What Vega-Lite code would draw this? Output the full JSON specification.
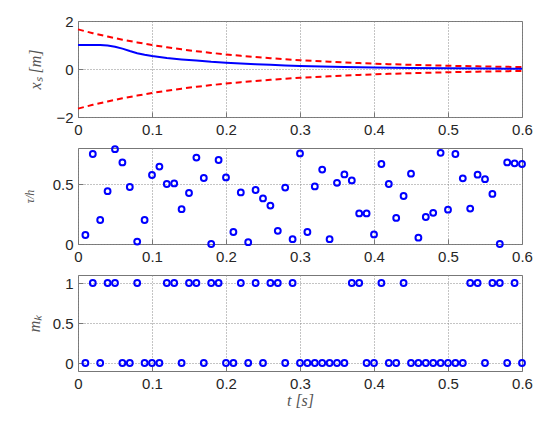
{
  "$schema": "https://vega.github.io/schema/vega-lite/v6.json",
  "background": "white",
  "padding": {"left": 22, "top": 13, "right": 10, "bottom": 10},
  "spacing": 31,
  "bounds": "flush",
  "datasets": {
    "xs": [
      {"t": 0, "v": 1.0}, {"t": 0.01, "v": 1.0}, {"t": 0.02, "v": 1.0}, {"t": 0.03, "v": 0.995},
      {"t": 0.04, "v": 0.975}, {"t": 0.05, "v": 0.93}, {"t": 0.06, "v": 0.85}, {"t": 0.07, "v": 0.75},
      {"t": 0.08, "v": 0.66}, {"t": 0.09, "v": 0.59}, {"t": 0.10, "v": 0.54}, {"t": 0.12, "v": 0.46},
      {"t": 0.14, "v": 0.40}, {"t": 0.16, "v": 0.35}, {"t": 0.18, "v": 0.30}, {"t": 0.20, "v": 0.265},
      {"t": 0.22, "v": 0.23}, {"t": 0.24, "v": 0.20}, {"t": 0.26, "v": 0.175}, {"t": 0.28, "v": 0.15},
      {"t": 0.30, "v": 0.13}, {"t": 0.33, "v": 0.105}, {"t": 0.36, "v": 0.085}, {"t": 0.40, "v": 0.065},
      {"t": 0.45, "v": 0.045}, {"t": 0.50, "v": 0.03}, {"t": 0.55, "v": 0.02}, {"t": 0.60, "v": 0.012}
    ],
    "bound": [
      {"t": 0, "v": 1.65, "side": "up"}, {"t": 0.02, "v": 1.493, "side": "up"}, {"t": 0.04, "v": 1.351, "side": "up"},
      {"t": 0.06, "v": 1.222, "side": "up"}, {"t": 0.08, "v": 1.106, "side": "up"}, {"t": 0.10, "v": 1.001, "side": "up"},
      {"t": 0.12, "v": 0.906, "side": "up"}, {"t": 0.14, "v": 0.819, "side": "up"}, {"t": 0.16, "v": 0.741, "side": "up"},
      {"t": 0.18, "v": 0.671, "side": "up"}, {"t": 0.20, "v": 0.607, "side": "up"}, {"t": 0.22, "v": 0.549, "side": "up"},
      {"t": 0.24, "v": 0.497, "side": "up"}, {"t": 0.26, "v": 0.450, "side": "up"}, {"t": 0.28, "v": 0.407, "side": "up"},
      {"t": 0.30, "v": 0.368, "side": "up"}, {"t": 0.32, "v": 0.333, "side": "up"}, {"t": 0.34, "v": 0.301, "side": "up"},
      {"t": 0.36, "v": 0.273, "side": "up"}, {"t": 0.38, "v": 0.247, "side": "up"}, {"t": 0.40, "v": 0.223, "side": "up"},
      {"t": 0.42, "v": 0.202, "side": "up"}, {"t": 0.44, "v": 0.183, "side": "up"}, {"t": 0.46, "v": 0.165, "side": "up"},
      {"t": 0.48, "v": 0.150, "side": "up"}, {"t": 0.50, "v": 0.135, "side": "up"}, {"t": 0.52, "v": 0.123, "side": "up"},
      {"t": 0.54, "v": 0.111, "side": "up"}, {"t": 0.56, "v": 0.100, "side": "up"}, {"t": 0.58, "v": 0.091, "side": "up"},
      {"t": 0.60, "v": 0.082, "side": "up"},
      {"t": 0, "v": -1.65, "side": "lo"}, {"t": 0.02, "v": -1.493, "side": "lo"}, {"t": 0.04, "v": -1.351, "side": "lo"},
      {"t": 0.06, "v": -1.222, "side": "lo"}, {"t": 0.08, "v": -1.106, "side": "lo"}, {"t": 0.10, "v": -1.001, "side": "lo"},
      {"t": 0.12, "v": -0.906, "side": "lo"}, {"t": 0.14, "v": -0.819, "side": "lo"}, {"t": 0.16, "v": -0.741, "side": "lo"},
      {"t": 0.18, "v": -0.671, "side": "lo"}, {"t": 0.20, "v": -0.607, "side": "lo"}, {"t": 0.22, "v": -0.549, "side": "lo"},
      {"t": 0.24, "v": -0.497, "side": "lo"}, {"t": 0.26, "v": -0.450, "side": "lo"}, {"t": 0.28, "v": -0.407, "side": "lo"},
      {"t": 0.30, "v": -0.368, "side": "lo"}, {"t": 0.32, "v": -0.333, "side": "lo"}, {"t": 0.34, "v": -0.301, "side": "lo"},
      {"t": 0.36, "v": -0.273, "side": "lo"}, {"t": 0.38, "v": -0.247, "side": "lo"}, {"t": 0.40, "v": -0.223, "side": "lo"},
      {"t": 0.42, "v": -0.202, "side": "lo"}, {"t": 0.44, "v": -0.183, "side": "lo"}, {"t": 0.46, "v": -0.165, "side": "lo"},
      {"t": 0.48, "v": -0.150, "side": "lo"}, {"t": 0.50, "v": -0.135, "side": "lo"}, {"t": 0.52, "v": -0.123, "side": "lo"},
      {"t": 0.54, "v": -0.111, "side": "lo"}, {"t": 0.56, "v": -0.100, "side": "lo"}, {"t": 0.58, "v": -0.091, "side": "lo"},
      {"t": 0.60, "v": -0.082, "side": "lo"}
    ],
    "tau": [
      {"t": 0.01, "v": 0.075}, {"t": 0.02, "v": 0.75}, {"t": 0.03, "v": 0.20}, {"t": 0.04, "v": 0.44},
      {"t": 0.05, "v": 0.79}, {"t": 0.06, "v": 0.68}, {"t": 0.07, "v": 0.475}, {"t": 0.08, "v": 0.02},
      {"t": 0.09, "v": 0.20}, {"t": 0.10, "v": 0.575}, {"t": 0.11, "v": 0.645}, {"t": 0.12, "v": 0.50},
      {"t": 0.13, "v": 0.505}, {"t": 0.14, "v": 0.29}, {"t": 0.15, "v": 0.425}, {"t": 0.16, "v": 0.72},
      {"t": 0.17, "v": 0.55}, {"t": 0.18, "v": 0.0}, {"t": 0.19, "v": 0.70}, {"t": 0.20, "v": 0.555},
      {"t": 0.21, "v": 0.10}, {"t": 0.22, "v": 0.43}, {"t": 0.23, "v": 0.015}, {"t": 0.24, "v": 0.45},
      {"t": 0.25, "v": 0.38}, {"t": 0.26, "v": 0.32}, {"t": 0.27, "v": 0.11}, {"t": 0.28, "v": 0.47},
      {"t": 0.29, "v": 0.04}, {"t": 0.30, "v": 0.755}, {"t": 0.31, "v": 0.10}, {"t": 0.32, "v": 0.48},
      {"t": 0.33, "v": 0.62}, {"t": 0.34, "v": 0.04}, {"t": 0.35, "v": 0.51}, {"t": 0.36, "v": 0.58},
      {"t": 0.37, "v": 0.53}, {"t": 0.38, "v": 0.255}, {"t": 0.39, "v": 0.255}, {"t": 0.40, "v": 0.08},
      {"t": 0.41, "v": 0.667}, {"t": 0.42, "v": 0.50}, {"t": 0.43, "v": 0.217}, {"t": 0.44, "v": 0.40},
      {"t": 0.45, "v": 0.586}, {"t": 0.46, "v": 0.053}, {"t": 0.47, "v": 0.225}, {"t": 0.48, "v": 0.26},
      {"t": 0.49, "v": 0.76}, {"t": 0.50, "v": 0.286}, {"t": 0.51, "v": 0.75}, {"t": 0.52, "v": 0.547},
      {"t": 0.53, "v": 0.295}, {"t": 0.54, "v": 0.578}, {"t": 0.55, "v": 0.54}, {"t": 0.56, "v": 0.417},
      {"t": 0.57, "v": 0.0}, {"t": 0.58, "v": 0.68}, {"t": 0.59, "v": 0.672}, {"t": 0.60, "v": 0.667}
    ],
    "mk": [
      {"t": 0.01, "m": 0}, {"t": 0.02, "m": 1}, {"t": 0.03, "m": 0}, {"t": 0.04, "m": 1}, {"t": 0.05, "m": 1},
      {"t": 0.06, "m": 0}, {"t": 0.07, "m": 0}, {"t": 0.08, "m": 1}, {"t": 0.09, "m": 0}, {"t": 0.10, "m": 0},
      {"t": 0.11, "m": 0}, {"t": 0.12, "m": 1}, {"t": 0.13, "m": 1}, {"t": 0.14, "m": 0}, {"t": 0.15, "m": 1},
      {"t": 0.16, "m": 1}, {"t": 0.17, "m": 0}, {"t": 0.18, "m": 1}, {"t": 0.19, "m": 1}, {"t": 0.20, "m": 0},
      {"t": 0.21, "m": 0}, {"t": 0.22, "m": 1}, {"t": 0.23, "m": 0}, {"t": 0.24, "m": 1}, {"t": 0.25, "m": 0},
      {"t": 0.26, "m": 1}, {"t": 0.27, "m": 1}, {"t": 0.28, "m": 0}, {"t": 0.29, "m": 1}, {"t": 0.30, "m": 0},
      {"t": 0.31, "m": 0}, {"t": 0.32, "m": 0}, {"t": 0.33, "m": 0}, {"t": 0.34, "m": 0}, {"t": 0.35, "m": 0},
      {"t": 0.36, "m": 0}, {"t": 0.37, "m": 1}, {"t": 0.38, "m": 1}, {"t": 0.39, "m": 0}, {"t": 0.40, "m": 0},
      {"t": 0.41, "m": 1}, {"t": 0.42, "m": 0}, {"t": 0.43, "m": 0}, {"t": 0.44, "m": 1}, {"t": 0.45, "m": 0},
      {"t": 0.46, "m": 0}, {"t": 0.47, "m": 0}, {"t": 0.48, "m": 0}, {"t": 0.49, "m": 0}, {"t": 0.50, "m": 0},
      {"t": 0.51, "m": 0}, {"t": 0.52, "m": 0}, {"t": 0.53, "m": 1}, {"t": 0.54, "m": 1}, {"t": 0.55, "m": 0},
      {"t": 0.56, "m": 1}, {"t": 0.57, "m": 1}, {"t": 0.58, "m": 0}, {"t": 0.59, "m": 1}, {"t": 0.60, "m": 0}
    ]
  },
  "vconcat": [
    {
      "width": 444,
      "height": 96,
      "layer": [
        {
          "data": {"name": "bound"},
          "mark": {"type": "line", "color": "#ff0000", "strokeWidth": 2, "strokeDash": [6, 4]},
          "encoding": {
            "x": {"field": "t", "type": "quantitative", "scale": {"domain": [0, 0.6], "nice": false, "zero": false},
                  "axis": {"title": null, "values": [0, 0.1, 0.2, 0.3, 0.4, 0.5, 0.6], "format": "~g"}},
            "y": {"field": "v", "type": "quantitative", "scale": {"domain": [-2, 2], "nice": false},
                  "axis": {"title": "xₛ [m]", "values": [-2, 0, 2], "format": "~g", "titlePadding": 12}},
            "detail": {"field": "side"}
          }
        },
        {
          "data": {"name": "xs"},
          "mark": {"type": "line", "color": "#0000ff", "strokeWidth": 2},
          "encoding": {
            "x": {"field": "t", "type": "quantitative"},
            "y": {"field": "v", "type": "quantitative"}
          }
        }
      ]
    },
    {
      "width": 444,
      "height": 96,
      "data": {"name": "tau"},
      "mark": {"type": "point", "shape": "circle", "filled": false, "color": "#0000ff", "opacity": 1, "strokeWidth": 2, "size": 34, "clip": false},
      "encoding": {
        "x": {"field": "t", "type": "quantitative", "scale": {"domain": [0, 0.6], "nice": false, "zero": false},
              "axis": {"title": null, "values": [0, 0.1, 0.2, 0.3, 0.4, 0.5, 0.6], "format": "~g"}},
        "y": {"field": "v", "type": "quantitative", "scale": {"domain": [0, 0.8], "nice": false},
              "axis": {"title": "τ/h", "values": [0, 0.5], "format": "~g", "titlePadding": 16, "titleFontSize": 12}}
      }
    },
    {
      "width": 444,
      "height": 96,
      "data": {"name": "mk"},
      "mark": {"type": "point", "shape": "circle", "filled": false, "color": "#0000ff", "opacity": 1, "strokeWidth": 2, "size": 34, "clip": false},
      "encoding": {
        "x": {"field": "t", "type": "quantitative", "scale": {"domain": [0, 0.6], "nice": false, "zero": false},
              "axis": {"title": "t [s]", "values": [0, 0.1, 0.2, 0.3, 0.4, 0.5, 0.6], "format": "~g", "titlePadding": 1}},
        "y": {"field": "m", "type": "quantitative", "scale": {"domain": [-0.1, 1.1], "nice": false},
              "axis": {"title": "mₖ", "values": [0, 0.5, 1], "format": "~g", "titlePadding": 10}}
      }
    }
  ],
  "config": {
    "view": {"stroke": "#777777", "strokeWidth": 1},
    "axis": {
      "labelFont": "Arial, Liberation Sans, sans-serif",
      "labelFontSize": 15,
      "labelColor": "#262626",
      "labelPadding": 10,
      "titleFont": "Liberation Serif",
      "titleFontSize": 16,
      "titleFontStyle": "italic",
      "titleFontWeight": "normal",
      "titleColor": "#555555",
      "grid": true,
      "gridColor": "#888888",
      "gridDash": [1, 2],
      "gridOpacity": 1,
      "domain": false,
      "ticks": true,
      "tickSize": -5,
      "tickColor": "#777777",
      "labelFlush": false,
      "labelOverlap": false
    }
  }
}
